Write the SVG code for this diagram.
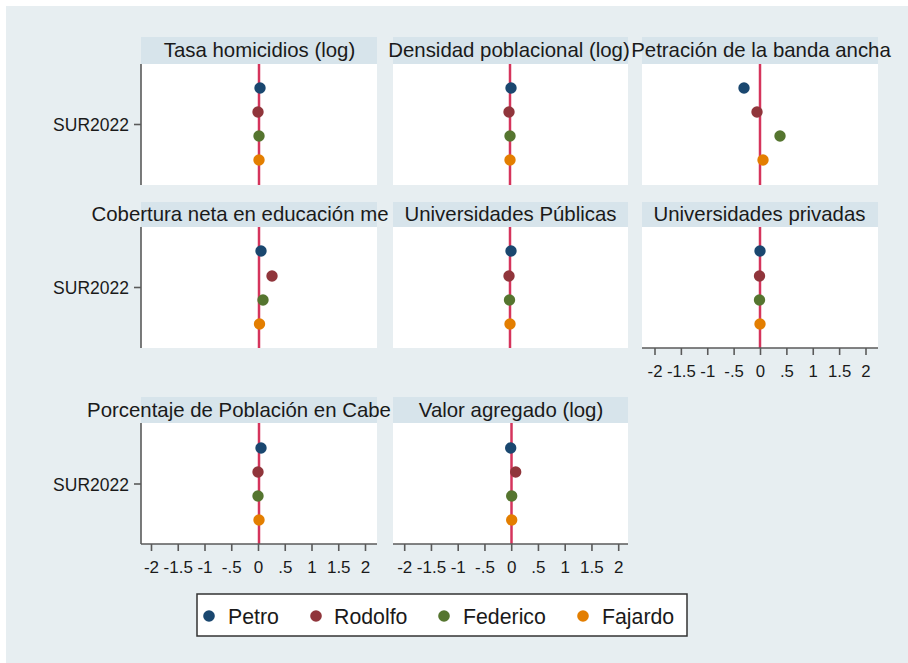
<svg xmlns="http://www.w3.org/2000/svg" width="908" height="663" viewBox="0 0 908 663">
<defs>
<style>
.bg{fill:#e7eef1}
.hdr{fill:#d7e4eb}
.plot{fill:#ffffff}
.ttl{font-family:"Liberation Sans",Arial,sans-serif;font-size:20.4px;fill:#1a1a1a;text-anchor:middle}
.ylab{font-family:"Liberation Sans",Arial,sans-serif;font-size:17.5px;fill:#1a1a1a;text-anchor:end}
.xlab{font-family:"Liberation Sans",Arial,sans-serif;font-size:17px;fill:#1a1a1a;text-anchor:middle}
.leg{font-family:"Liberation Sans",Arial,sans-serif;font-size:21.3px;fill:#1a1a1a}
.axis{stroke:#5a5a5a;stroke-width:1.6;fill:none}
.ref{stroke:#d5345c;stroke-width:2.5}
.p{fill:#1a476f}.r{fill:#90353b}.f{fill:#55752f}.j{fill:#e37e00}
</style>
<g id="xticks">
<path class="axis" d="M-107,0v7M-80.25,0v7M-53.5,0v7M-26.75,0v7M0,0v7M26.75,0v7M53.5,0v7M80.25,0v7M107,0v7"/>
<text class="xlab" x="-107" y="29">-2</text>
<text class="xlab" x="-80.25" y="29">-1.5</text>
<text class="xlab" x="-53.5" y="29">-1</text>
<text class="xlab" x="-26.75" y="29">-.5</text>
<text class="xlab" x="0" y="29">0</text>
<text class="xlab" x="26.75" y="29">.5</text>
<text class="xlab" x="53.5" y="29">1</text>
<text class="xlab" x="80.25" y="29">1.5</text>
<text class="xlab" x="107" y="29">2</text>
</g>
</defs>
<rect x="0" y="0" width="908" height="663" fill="#ffffff"/>
<rect class="bg" x="6" y="6" width="902" height="657"/>

<!-- Panel 1 -->
<g id="panel-tasa">
<rect class="hdr" x="141" y="37" width="236" height="27"/>
<rect class="plot" x="141" y="64" width="236" height="121"/>
<text class="ttl" x="259.5" y="57">Tasa homicidios (log)</text>
<line class="ref" x1="259" y1="64" x2="259" y2="185"/>
<circle class="p" cx="260" cy="88" r="5.7"/>
<circle class="r" cx="258" cy="112" r="5.7"/>
<circle class="f" cx="259" cy="136" r="5.7"/>
<circle class="j" cx="259" cy="160" r="5.7"/>
</g>

<!-- Panel 2 -->
<g id="panel-densidad">
<rect class="hdr" x="393" y="37" width="235" height="27"/>
<rect class="plot" x="393" y="64" width="235" height="121"/>
<text class="ttl" x="509" y="57">Densidad poblacional (log)</text>
<line class="ref" x1="510" y1="64" x2="510" y2="185"/>
<circle class="p" cx="511" cy="88" r="5.7"/>
<circle class="r" cx="509" cy="112" r="5.7"/>
<circle class="f" cx="510" cy="136" r="5.7"/>
<circle class="j" cx="510" cy="160" r="5.7"/>
</g>

<!-- Panel 3 -->
<g id="panel-banda">
<rect class="hdr" x="642" y="37" width="236" height="27"/>
<rect class="plot" x="642" y="64" width="236" height="121"/>
<text class="ttl" x="761" y="57">Petración de la banda ancha</text>
<line class="ref" x1="760" y1="64" x2="760" y2="185"/>
<circle class="p" cx="744" cy="88" r="5.7"/>
<circle class="r" cx="757" cy="112" r="5.7"/>
<circle class="f" cx="780" cy="136" r="5.7"/>
<circle class="j" cx="763" cy="160" r="5.7"/>
</g>

<!-- Panel 4 -->
<g id="panel-cobertura">
<rect class="hdr" x="141" y="202" width="236" height="25"/>
<rect class="plot" x="141" y="227" width="236" height="121"/>
<text class="ttl" x="240" y="221">Cobertura neta en educación me</text>
<line class="ref" x1="259" y1="227" x2="259" y2="348"/>
<circle class="p" cx="261" cy="251" r="5.7"/>
<circle class="r" cx="272" cy="276" r="5.7"/>
<circle class="f" cx="263" cy="300" r="5.7"/>
<circle class="j" cx="259.5" cy="324" r="5.7"/>
</g>

<!-- Panel 5 -->
<g id="panel-publicas">
<rect class="hdr" x="393" y="202" width="235" height="25"/>
<rect class="plot" x="393" y="227" width="235" height="121"/>
<text class="ttl" x="510.5" y="221">Universidades Públicas</text>
<line class="ref" x1="510" y1="227" x2="510" y2="348"/>
<circle class="p" cx="511" cy="251" r="5.7"/>
<circle class="r" cx="509" cy="276" r="5.7"/>
<circle class="f" cx="509.5" cy="300" r="5.7"/>
<circle class="j" cx="510" cy="324" r="5.7"/>
</g>

<!-- Panel 6 -->
<g id="panel-privadas">
<rect class="hdr" x="642" y="202" width="236" height="25"/>
<rect class="plot" x="642" y="227" width="236" height="121"/>
<text class="ttl" x="759.5" y="221">Universidades privadas</text>
<line class="ref" x1="760" y1="227" x2="760" y2="348"/>
<circle class="p" cx="760" cy="251" r="5.7"/>
<circle class="r" cx="759.5" cy="276" r="5.7"/>
<circle class="f" cx="759.5" cy="300" r="5.7"/>
<circle class="j" cx="760" cy="324" r="5.7"/>
<line class="axis" x1="642" y1="348" x2="878" y2="348"/>
<use href="#xticks" transform="translate(760.5,348) scale(0.986,1)"/>
</g>

<!-- Panel 7 -->
<g id="panel-porcentaje">
<rect class="hdr" x="141" y="397" width="236" height="26"/>
<rect class="plot" x="141" y="423" width="236" height="121"/>
<text class="ttl" x="239" y="416.5">Porcentaje de Población en Cabe</text>
<line class="ref" x1="259" y1="423" x2="259" y2="544"/>
<circle class="p" cx="261" cy="448" r="5.7"/>
<circle class="r" cx="258" cy="472" r="5.7"/>
<circle class="f" cx="258" cy="496" r="5.7"/>
<circle class="j" cx="259" cy="520" r="5.7"/>
<line class="axis" x1="141" y1="544" x2="377" y2="544"/>
<use href="#xticks" transform="translate(258.5,544)"/>
</g>

<!-- Panel 8 -->
<g id="panel-valor">
<rect class="hdr" x="393" y="397" width="235" height="26"/>
<rect class="plot" x="393" y="423" width="235" height="121"/>
<text class="ttl" x="511" y="416.5">Valor agregado (log)</text>
<line class="ref" x1="511.5" y1="423" x2="511.5" y2="544"/>
<circle class="p" cx="510.7" cy="448" r="5.7"/>
<circle class="r" cx="515.7" cy="472" r="5.7"/>
<circle class="f" cx="511.7" cy="496" r="5.7"/>
<circle class="j" cx="511.7" cy="520" r="5.7"/>
<line class="axis" x1="393" y1="544" x2="628" y2="544"/>
<use href="#xticks" transform="translate(511.7,544)"/>
</g>

<!-- Y axes -->
<g id="yaxes">
<line class="axis" x1="141" y1="64" x2="141" y2="185"/>
<line class="axis" x1="134" y1="124.5" x2="141" y2="124.5"/>
<text class="ylab" x="129" y="131">SUR2022</text>
<line class="axis" x1="141" y1="227" x2="141" y2="348"/>
<line class="axis" x1="134" y1="287.5" x2="141" y2="287.5"/>
<text class="ylab" x="129" y="294">SUR2022</text>
<line class="axis" x1="141" y1="423" x2="141" y2="544"/>
<line class="axis" x1="134" y1="484" x2="141" y2="484"/>
<text class="ylab" x="129" y="490.5">SUR2022</text>
</g>

<!-- Legend -->
<g id="legend">
<rect x="197" y="594" width="490" height="42" fill="#ffffff" stroke="#333333" stroke-width="1.5"/>
<circle class="p" cx="209" cy="616" r="5.8"/>
<text class="leg" x="228" y="623.5">Petro</text>
<circle class="r" cx="316" cy="616" r="5.8"/>
<text class="leg" x="334" y="623.5">Rodolfo</text>
<circle class="f" cx="444" cy="616" r="5.8"/>
<text class="leg" x="463" y="623.5">Federico</text>
<circle class="j" cx="583" cy="616" r="5.8"/>
<text class="leg" x="602" y="623.5">Fajardo</text>
</g>
</svg>
